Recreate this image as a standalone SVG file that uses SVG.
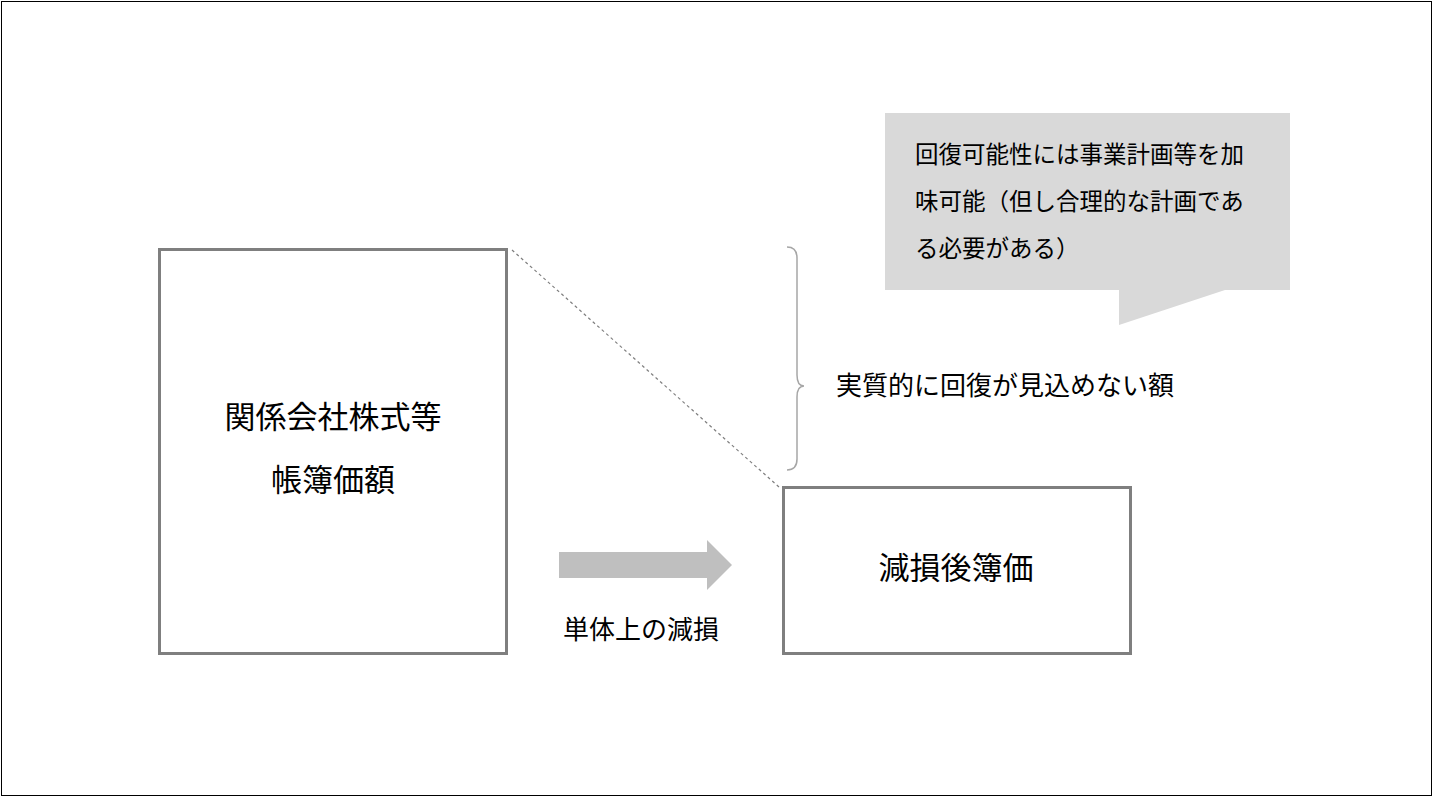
<svg xmlns="http://www.w3.org/2000/svg" width="1433" height="797" viewBox="0 0 1433 797">
<style>
text{font-family:"Noto Sans CJK JP","Liberation Sans",sans-serif;fill:#000}
.box{fill:#fff;stroke:#7f7f7f;stroke-width:3}
.l{font-size:31px}
.m{font-size:26px}
.s{font-size:23.5px}
</style>
<rect x="1.5" y="1.5" width="1430" height="794" fill="#fff" stroke="#000" stroke-width="1"/>
<g id="connectors">
<line x1="512" y1="250" x2="779" y2="487" stroke="#7f7f7f" stroke-width="1.2" stroke-dasharray="3,3"/>
<polygon points="559,552 707,552 707,540 732,565 707,590 707,578 559,578" fill="#bfbfbf"/>
<path d="M787,247 Q797,247 797,258 V375 Q797,386 804,386 Q797,386 797,397 V459 Q797,470 787,470" fill="none" stroke="#a6a6a6" stroke-width="1.5"/>
</g>
<g id="book">
<rect class="box" x="159.5" y="249.5" width="347" height="404"/>
<text class="l" x="333" y="428" text-anchor="middle">関係会社株式等</text>
<text class="l" x="333" y="491" text-anchor="middle">帳簿価額</text>
</g>
<g id="after">
<rect class="box" x="783.5" y="487.5" width="347" height="166"/>
<text class="l" x="956" y="579" text-anchor="middle">減損後簿価</text>
</g>
<g id="label-impair"><text class="m" x="641" y="639" text-anchor="middle">単体上の減損</text></g>
<g id="label-unrecov"><text class="m" x="836" y="395">実質的に回復が見込めない額</text></g>
<g id="callout">
<polygon points="885,113 1290,113 1290,290 1225,290 1119,325 1119,290 885,290" fill="#d9d9d9"/>
<text class="s" x="915" y="163">回復可能性には事業計画等を加</text>
<text class="s" x="915" y="210">味可能（但し合理的な計画であ</text>
<text class="s" x="915" y="257">る必要がある）</text>
</g>
</svg>
